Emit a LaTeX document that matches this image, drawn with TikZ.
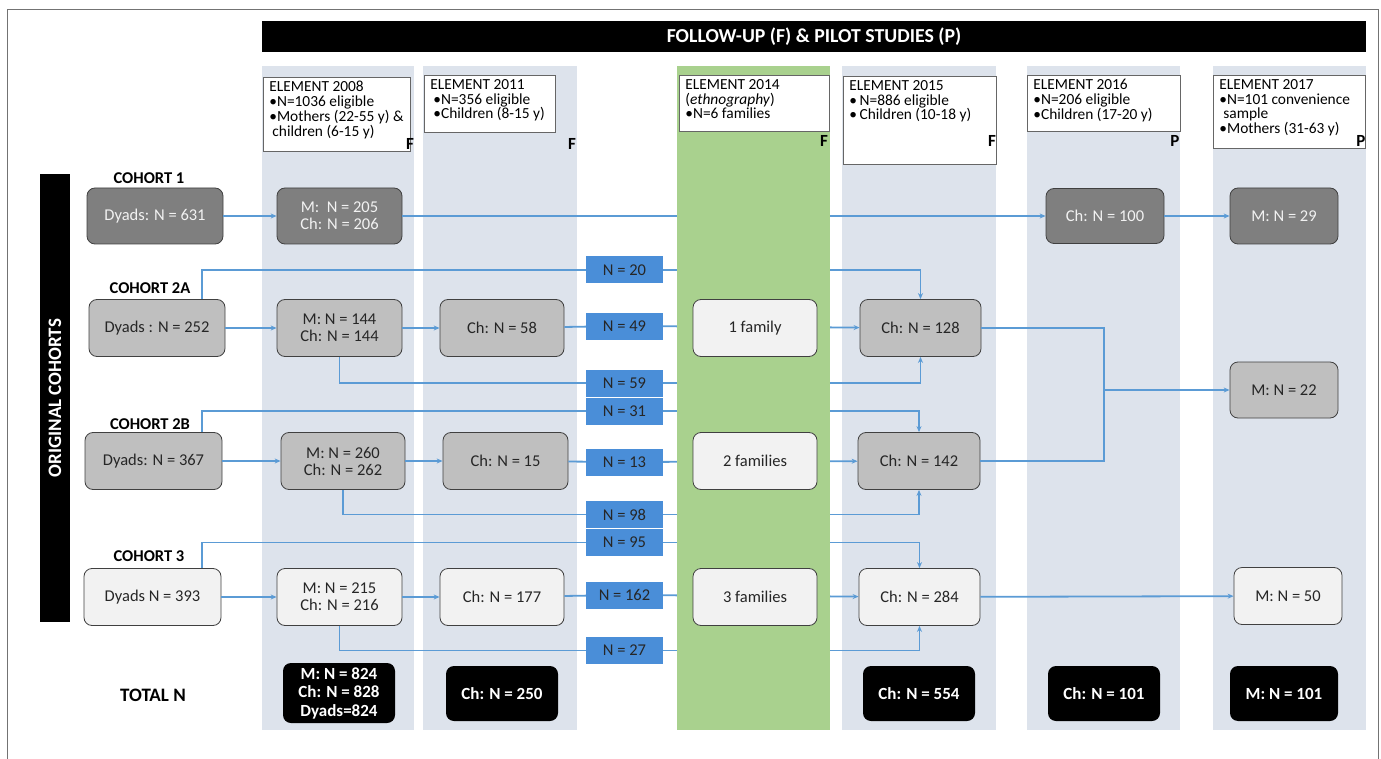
\documentclass[tikz,border=0pt]{standalone}
\usepackage{fontspec}
\setmainfont{Carlito}
\usetikzlibrary{arrows.meta}
\usetikzlibrary{positioning}

\definecolor{colbg}{HTML}{DDE3EC}
\definecolor{ethgreen}{HTML}{A9D18E}
\definecolor{linkblue}{HTML}{5B9BD5}
\definecolor{tagblue}{HTML}{4A8ED8}
\definecolor{darkgrey}{HTML}{7F7F7F}
\definecolor{midgrey}{HTML}{BFBFBF}
\definecolor{palegrey}{HTML}{F2F2F2}
\definecolor{boxline}{HTML}{404040}

\tikzset{
 cbox/.style={draw=boxline, line width=0.8pt, rounded corners=8pt, align=center, inner sep=0pt,
   minimum height=57pt, font=\fontsize{16.5}{17}\selectfont},
 cdark/.style={cbox, fill=darkgrey, text=palegrey},
 cmid/.style={cbox, fill=midgrey, text=black!85},
 cpale/.style={cbox, fill=palegrey, text=black!85},
 total/.style={fill=black, text=white, rounded corners=8pt, align=center, inner sep=0pt,
   minimum height=55pt, font=\bfseries\fontsize{17}{18.5}\selectfont},
 tag/.style={fill=tagblue, text=black!85, minimum width=77pt, minimum height=27pt, inner sep=0pt,
   font=\fontsize{16.5}{17}\selectfont},
 link/.style={draw=linkblue, line width=1.8pt},
 arrowlink/.style={link, -{Stealth[length=6pt,width=5pt]}},
 elem/.style={draw=black!60, fill=white, line width=0.8pt, anchor=north west, inner xsep=6pt,
   inner ysep=4pt, font=\fontsize{15.4}{14.8}\selectfont},
 flag/.style={font=\bfseries\fontsize{17}{17}\selectfont},
 cohort/.style={font=\bfseries\fontsize{16.5}{17}\selectfont},
}

\begin{document}
\begin{tikzpicture}[x=1pt, y=-1pt]
 \useasboundingbox (0,0) rectangle (1381,759);
 \draw[black!55, line width=0.8pt] (7,760) -- (7,9) -- (1378,9) -- (1378,760);

 % header
 \node[fill=black, text=white, minimum width=1104pt, minimum height=31pt, inner sep=0pt,
   font=\bfseries\fontsize{19.8}{20}\selectfont] (head) at (814,37) {FOLLOW-UP (F) \& PILOT STUDIES (P)};

 % study columns
 \fill[colbg] (262,66) rectangle (414,730);
 \fill[colbg] (423,66) rectangle (577,730);
 \fill[colbg] (842,66) rectangle (996,730);
 \fill[colbg] (1027,66) rectangle (1180,730);
 \fill[colbg] (1213,66) rectangle (1366,730);

 \node[elem] (e08) at (263,77) {\parbox[t][66pt][t]{135pt}{\raggedright ELEMENT 2008\\
   •N=1036 eligible\\ •Mothers (22-55 y) \&\\ \hspace*{3pt}children (6-15 y)}};
 \node[elem] (e11) at (424,75) {\parbox[t][49pt][t]{119pt}{\raggedright ELEMENT 2011\\
   \hspace*{3pt}•N=356 eligible\\ \hspace*{3pt}•Children (8-15 y)}};
 \node[elem] (e15) at (843,76) {\parbox[t][80pt][t]{141pt}{\raggedright ELEMENT 2015\\
   •\,N=886 eligible\\ •\,Children (10-18 y)}};
 \node[elem] (e16) at (1027,75) {\parbox[t][48pt][t]{141pt}{\raggedright ELEMENT 2016\\
   •N=206 eligible\\ •Children (17-20 y)}};
 \node[elem] (e17) at (1213,75) {\parbox[t][65pt][t]{140pt}{\raggedright ELEMENT 2017\\
   •N=101 convenience\\ \hspace*{4pt}sample\\ •Mothers (31-63 y)}};

 \node[flag] (f08) at (410,144) {F};
 \node[flag] (f11) at (572,144) {F};
 \node[flag] (f15) at (992,141) {F};
 \node[flag] (p16) at (1175,141) {P};
 \node[flag] (p17) at (1361,141) {P};

 % original cohorts
 \node[fill=black, text=white, rotate=90, minimum width=448pt, minimum height=30pt, inner sep=0pt,
   font=\bfseries\fontsize{19}{19}\selectfont] (orig) at (55,398) {ORIGINAL COHORTS};
 \node[cohort] (lab1) at (149,178) {COHORT 1};
 \node[cohort] (lab2a) at (150,288) {COHORT 2A};
 \node[cohort] (lab2b) at (150,424) {COHORT 2B};
 \node[cohort] (lab3) at (149,556) {COHORT 3};
 \node[font=\bfseries\fontsize{19}{19}\selectfont] (labt) at (153,695) {TOTAL N};

 % cohort 1
 \node[cdark, minimum width=136pt, minimum height=56pt] (d1) at (155,216) {Dyads: N = 631};
 \node[cdark, minimum width=125pt, minimum height=56pt] (m1) at (339.5,216) {M:\ \ N = 205\\Ch: N = 206};
 \node[cdark, minimum width=118pt, minimum height=55pt] (c1) at (1105,216) {Ch: N = 100};
 \node[cdark, minimum width=108pt, minimum height=56pt] (p1) at (1284,216) {M: N = 29};

 % cohort 2A
 \node[cmid, minimum width=136pt] (d2a) at (157,328) {Dyads : N = 252};
 \node[cmid, minimum width=125pt] (m2a) at (339.5,328) {M: N = 144\\Ch: N = 144};
 \node[cmid, minimum width=124pt] (k2a) at (502,328) {Ch: N = 58};
 \node[cmid, minimum width=121pt] (s2a) at (920.5,328) {Ch: N = 128};
 \node[cmid, minimum width=108pt, minimum height=56pt] (p2) at (1284,390) {M: N = 22};

 % cohort 2B
 \node[cmid, minimum width=137pt] (d2b) at (153.5,461) {Dyads: N = 367};
 \node[cmid, minimum width=124pt] (m2b) at (343,461) {M: N = 260\\Ch: N = 262};
 \node[cmid, minimum width=125pt] (k2b) at (505.5,461) {Ch: N = 15};
 \node[cmid, minimum width=122pt] (s2b) at (919,461) {Ch: N = 142};

 % cohort 3
 \node[cpale, minimum width=137pt] (d3) at (152.5,597) {Dyads N = 393};
 \node[cpale, minimum width=125pt] (m3) at (339.5,597) {M: N = 215\\Ch: N = 216};
 \node[cpale, minimum width=124pt] (k3) at (502,597) {Ch: N = 177};
 \node[cpale, minimum width=121pt] (s3) at (919.5,597) {Ch: N = 284};
 \node[cpale, minimum width=108pt] (p3) at (1288,596) {M: N = 50};

 % counts
 \node[tag] (n20) at (624.5,270) {N = 20};
 \node[tag] (n49) at (624.5,326) {N = 49};
 \node[tag] (n59) at (624.5,383) {N = 59};
 \node[tag] (n31) at (624.5,411) {N = 31};
 \node[tag] (n13) at (624.5,462) {N = 13};
 \node[tag] (n98) at (624.5,514.5) {N = 98};
 \node[tag] (n95) at (624.5,542.5) {N = 95};
 \node[tag] (n162) at (624.5,595) {N = 162};
 \node[tag] (n27) at (624.5,650.5) {N = 27};

 % totals
 \node[total, minimum width=112pt, minimum height=60pt] (t08) at (339,693) {M: N = 824\\Ch: N = 828\\Dyads=824};
 \node[total, minimum width=112pt] (t11) at (502,693.5) {Ch: N = 250};
 \node[total, minimum width=112pt] (t15) at (919,693.5) {Ch: N = 554};
 \node[total, minimum width=112pt] (t16) at (1104,693.5) {Ch: N = 101};
 \node[total, minimum width=108pt] (t17) at (1284,693.5) {M: N = 101};

 % connectors
 \draw[arrowlink] (d1) -- (m1);
 \draw[arrowlink] (m1) -- (c1);
 \draw[arrowlink] (c1) -- (p1);

 \draw[arrowlink] (d2a) -- (m2a);
 \draw[arrowlink] (m2a) -- (k2a);
 \draw[link] (k2a) -- (n49);
 \draw[arrowlink] (n49) -- (s2a);
 \draw[link] ([xshift=45pt]d2a.north) |- (n20.west);
 \draw[arrowlink] (n20.east) -| (s2a.north);
 \draw[link] (m2a.south) |- (n59.west);
 \draw[arrowlink] (n59.east) -| (s2a.south);

 \draw[arrowlink] (d2b) -- (m2b);
 \draw[arrowlink] (m2b) -- (k2b);
 \draw[link] (k2b) -- (n13);
 \draw[arrowlink] (n13) -- (s2b);
 \draw[link] ([xshift=48.5pt]d2b.north) |- (n31.west);
 \draw[arrowlink] (n31.east) -| (s2b.north);
 \draw[link] (m2b.south) |- (n98.west);
 \draw[arrowlink] (n98.east) -| (s2b.south);

 \coordinate (join) at (1104,390);
 \draw[link] (s2a.east) -| (join) |- (s2b.east);
 \draw[arrowlink] (join) -- (p2);

 \draw[arrowlink] (d3) -- (m3);
 \draw[arrowlink] (m3) -- (k3);
 \draw[link] (k3) -- (n162);
 \draw[arrowlink] (n162) -- (s3);
 \draw[link] ([xshift=49.5pt]d3.north) |- (n95.west);
 \draw[arrowlink] (n95.east) -| (s3.north);
 \draw[link] (m3.south) |- (n27.west);
 \draw[arrowlink] (n27.east) -| (s3.south);
 \draw[arrowlink] (s3) -- (p3);

 % ethnography column
 \fill[ethgreen] (677,66) rectangle (830,730);
 \node[elem] (e14) at (679,75) {\parbox[t][48pt][t]{138pt}{\raggedright ELEMENT 2014\\
   (\textit{ethnography})\\ •N=6 families}};
 \node[flag] (f14) at (824,141) {F};
 \node[cpale, minimum width=124pt] (fam1) at (755,328) {1 family};
 \node[cpale, minimum width=124pt] (fam2) at (755,461) {2 families};
 \node[cpale, minimum width=124pt] (fam3) at (755,597) {3 families};
\end{tikzpicture}
\end{document}
